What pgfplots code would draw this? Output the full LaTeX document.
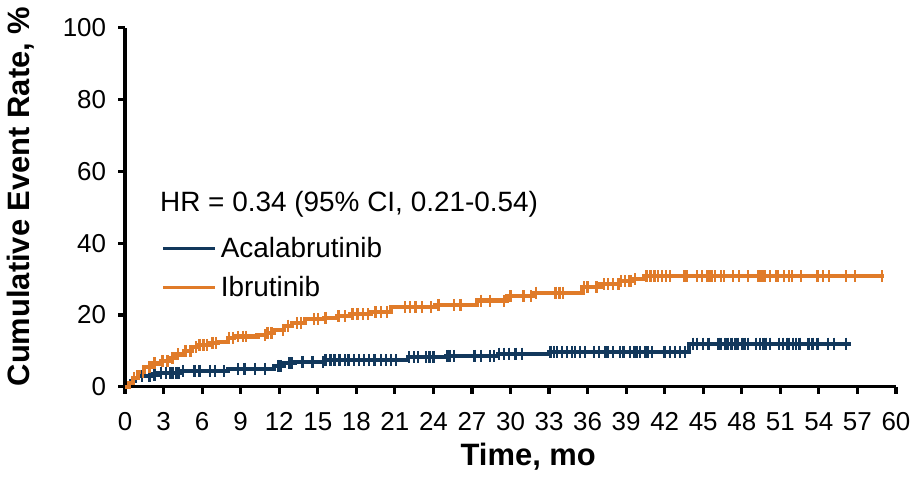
\documentclass[border=0pt]{standalone}
\usepackage{fontspec}
\setmainfont{Liberation Sans}
\usepackage{pgfplots}
\pgfplotsset{compat=1.18}

\definecolor{acalab}{RGB}{18,56,92}
\definecolor{ibrut}{RGB}{224,123,41}

\begin{document}
\begin{tikzpicture}
\begin{axis}[
    scale only axis,
    width=386.5pt, height=180pt,
    xmin=0, xmax=60, ymin=0, ymax=100,
    xtick={0,3,...,60}, ytick={0,20,...,100},
    axis x line=bottom, axis y line=left,
    axis line style={-, line width=1.6pt, black},
    tick align=outside, major tick length=3.5pt,
    tick style={black, line width=1.6pt},
    /pgf/number format/assume math mode=true,
    tick label style={font=\fontsize{13}{15}\selectfont},
    xticklabel style={yshift=-6pt},
    yticklabel style={xshift=-2.5pt},
    xlabel={Time, mo}, ylabel={Cumulative Event Rate, \%},
    label style={font=\fontsize{15.5}{18}\selectfont\bfseries},
    xlabel style={at={(axis description cs:0.523,-0.195)}, anchor=center},
    ylabel style={at={(axis description cs:-0.136,0.53)}, anchor=center},
    legend style={draw=none, fill=none, at={(axis cs:2.8,43)}, anchor=north west,
        inner sep=0pt, row sep=4pt, font=\fontsize{14}{16}\selectfont},
    legend cell align=left,
    legend image code/.code={\draw[#1, line width=1.75pt] (0pt,0pt) -- (26pt,0pt);},
    clip=false,
]
\addplot[acalab, line width=2.1pt, const plot] coordinates {
(0,0) (0.3,1) (0.5,1.6) (0.8,2.5) (1,3) (2,3.4) (2.6,3.9) (4.3,4.4) (8,5)
(11.6,5.8) (12.4,6.6) (13.2,6.9) (15.5,7.4) (22,8.3) (25,8.6) (29,9.2)
(33,9.7) (43.9,12) (56.5,12)
};
\addlegendentry{Acalabrutinib}
\addplot[ibrut, line width=2.1pt, const plot] coordinates {
(0,0) (0.3,1) (0.6,2.5) (1,4) (1.5,5.5) (2.2,6.5) (2.8,7.2) (3.5,8) (4,9)
(4.6,10) (5.2,11) (5.7,11.7) (6.5,12.2) (7.2,12.5) (8,13.5) (8.5,14)
(10.3,14.4) (11,15) (11.6,15.8) (12.4,17) (13,17.8) (14,18.9) (15.5,19.2)
(16.5,19.7) (17.5,20.2) (19.1,20.8) (20.7,22.2) (24.1,22.8) (27.4,24)
(29.7,25.2) (31.8,26.2) (35.6,27.7) (37,28.6) (38.5,29.5) (39.5,30)
(40.4,30.8) (59.1,30.8)
};
\addlegendentry{Ibrutinib}

% censored observations
\addplot[acalab, only marks, mark=|, mark size=3pt, line width=1.2pt, forget plot] coordinates {
(1.3,3) (1.9,3) (2.3,3.4) (2.8,3.9) (3.2,3.9) (3.5,3.9) (3.7,3.9) (4.0,3.9)
(4.2,3.9) (4.5,4.4) (5.4,4.4) (5.8,4.4) (6.6,4.4) (7.0,4.4) (7.7,4.4)
(8.8,5) (9.3,5) (10.1,5) (10.9,5) (11.9,5.8) (12.1,5.8) (12.8,6.6) (13.0,6.6)
(13.8,6.9) (14.6,6.9) (15.4,6.9) (15.6,7.4) (16.0,7.4) (16.3,7.4) (16.7,7.4)
(17.1,7.4) (17.4,7.4) (17.8,7.4) (18.2,7.4) (18.6,7.4) (19.0,7.4) (19.4,7.4)
(19.9,7.4) (20.3,7.4) (20.7,7.4) (21.1,7.4) (22.1,8.3) (22.5,8.3) (22.8,8.3)
(23.4,8.3) (23.7,8.3) (24.0,8.3) (25.1,8.6) (25.3,8.6) (25.6,8.6) (27.2,8.6)
(27.7,8.6) (28.4,8.6) (28.7,8.6) (29.1,9.2) (29.5,9.2) (29.9,9.2) (30.4,9.2)
(30.9,9.2) (33.1,9.7) (33.4,9.7) (33.6,9.7) (34.0,9.7) (34.4,9.7) (34.8,9.7)
(35.0,9.7) (35.4,9.7) (35.8,9.7) (36.5,9.7) (36.9,9.7) (37.4,9.7) (37.6,9.7)
(38.0,9.7) (38.5,9.7) (38.8,9.7) (39.3,9.7) (39.6,9.7) (39.8,9.7) (40.1,9.7)
(40.5,9.7) (40.7,9.7) (41.0,9.7) (42.0,9.7) (42.4,9.7) (42.8,9.7) (43.2,9.7)
(43.6,9.7) (44.2,12) (44.5,12) (45.0,12) (45.4,12) (46.2,12) (46.4,12)
(46.7,12) (46.9,12) (47.2,12) (47.5,12) (47.7,12) (48.0,12) (48.2,12)
(48.5,12) (49.1,12) (49.4,12) (49.7,12) (49.9,12) (50.2,12) (50.9,12)
(51.2,12) (51.5,12) (51.7,12) (52.0,12) (52.2,12) (52.5,12) (53.2,12)
(53.5,12) (53.9,12) (54.7,12) (55.2,12) (56.1,12)
};
\addplot[ibrut, only marks, mark=|, mark size=3pt, line width=1.2pt, forget plot] coordinates {
(0.7,2.5) (1.4,4) (1.9,5.5) (2.3,6.5) (2.9,7.2) (3.3,7.2) (3.7,8) (4.1,9)
(4.7,10) (5.1,10) (5.5,11) (5.8,11.7) (6.1,11.7) (6.4,11.7) (6.8,12.2)
(7.1,12.2) (8.1,13.5) (8.4,13.5) (8.8,14) (9.2,14) (9.4,14) (10.9,14.4)
(11.1,15) (11.4,15) (12.3,15.8) (12.7,17) (13.4,17.8) (13.7,17.8) (14.7,18.9)
(15.0,18.9) (15.6,19.2) (16.6,19.7) (17.1,19.7) (17.7,20.2) (18.1,20.2)
(18.5,20.2) (18.9,20.2) (19.5,20.8) (19.9,20.8) (20.4,20.8) (21.8,22.2)
(22.2,22.2) (22.6,22.2) (23.1,22.2) (23.8,22.2) (24.4,22.8) (25.6,22.8)
(26.1,22.8) (27.7,24) (28.4,24) (29.5,24) (30.0,25.2) (31.0,25.2) (31.6,25.2)
(32.0,26.2) (33.5,26.2) (33.8,26.2) (34.1,26.2) (35.7,27.7) (36.0,27.7)
(36.7,27.7) (37.3,28.6) (37.6,28.6) (38.0,28.6) (38.4,28.6) (38.6,29.5)
(38.9,29.5) (39.2,29.5) (39.4,29.5) (39.7,30) (40.6,30.8) (40.9,30.8)
(41.2,30.8) (41.5,30.8) (41.8,30.8) (42.1,30.8) (42.4,30.8) (43.5,30.8)
(43.7,30.8) (44.5,30.8) (44.9,30.8) (45.3,30.8) (45.5,30.8) (45.7,30.8)
(45.9,30.8) (46.4,30.8) (46.6,30.8) (47.3,30.8) (47.8,30.8) (48.5,30.8)
(49.3,30.8) (49.5,30.8) (49.7,30.8) (49.8,30.8) (50.2,30.8) (50.7,30.8)
(50.8,30.8) (51.3,30.8) (51.7,30.8) (51.9,30.8) (52.6,30.8) (53.9,30.8)
(54.3,30.8) (54.8,30.8) (56.1,30.8) (56.8,30.8) (58.9,30.8)
};

\node[anchor=west, inner sep=0pt, font=\fontsize{14}{16}\selectfont]
    at (axis cs:2.7,50.8) {HR = 0.34 (95\% CI, 0.21-0.54)};
\end{axis}
\end{tikzpicture}
\end{document}
